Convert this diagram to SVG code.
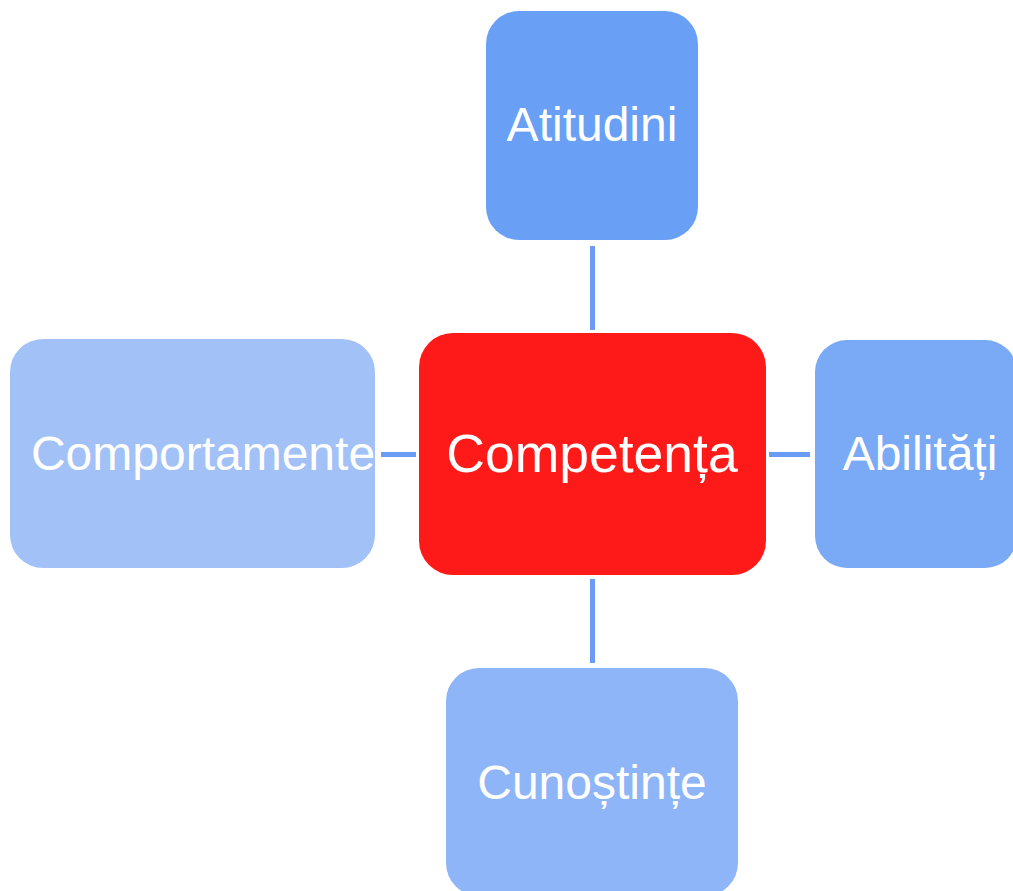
<svg xmlns="http://www.w3.org/2000/svg" width="1013" height="891" viewBox="0 0 1013 891">
<style>
.t{font-family:"Liberation Sans",Arial,sans-serif;fill:#fff;text-anchor:middle}
.c{stroke:#6A9BF5;stroke-width:5;fill:none}
</style>
<rect width="1013" height="891" fill="#fff"/>
<g id="connectors">
<line class="c" x1="592.5" y1="246" x2="592.5" y2="330"/>
<line class="c" x1="592.5" y1="579" x2="592.5" y2="663"/>
<line class="c" x1="381" y1="454.5" x2="416" y2="454.5"/>
<line class="c" x1="769" y1="454.5" x2="810" y2="454.5"/>
</g>
<g id="atitudini">
<rect x="486" y="11" width="212" height="229" rx="33" fill="#699FF5"/>
<text class="t" x="592" y="141" font-size="48">Atitudini</text>
</g>
<g id="competenta">
<rect x="419" y="333" width="347" height="242" rx="34" fill="#FF1A1A"/>
<text class="t" x="592" y="472" font-size="53.5">Competența</text>
</g>
<g id="abilitati">
<rect x="815" y="340" width="202" height="228" rx="32" fill="#7AAAF5"/>
<text class="t" x="920" y="470" font-size="48">Abilități</text>
</g>
<g id="cunostinte">
<rect x="446" y="668" width="292" height="228" rx="33" fill="#8EB5F7"/>
<text class="t" x="592" y="799" font-size="48">Cunoștințe</text>
</g>
<g id="comportamente">
<rect x="10" y="339" width="365" height="229" rx="33" fill="#A2C2F7"/>
<text class="t" x="203" y="470" font-size="48">Comportamente</text>
</g>
</svg>
